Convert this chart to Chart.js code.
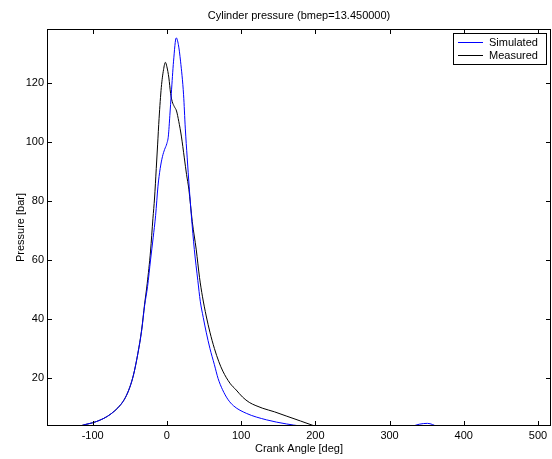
<!DOCTYPE html>
<html>
<head>
<meta charset="utf-8">
<script src="https://cdn.jsdelivr.net/npm/chart.js@4.4.1/dist/chart.umd.min.js"></script>
<style>
  html, body { margin: 0; padding: 0; background: #fff; }
  #wrap { width: 552px; height: 459px; }
</style>
</head>
<body>
<div id="wrap"><canvas id="pressureChart" width="552" height="459"></canvas></div>
<script>
// Simulated (blue)
const simAngle = [-160, -140, -120, -110, -100, -90, -80, -70, -62, -56, -50, -45, -39, -34, -30, -26, -22, -18.5, -15.2, -12, -9, -6, -3, 0, 2, 4, 6, 9, 12.6, 15.5, 18.4, 22.5, 24.8, 27.4, 30, 33, 37, 41.7, 45, 49, 53, 58, 64, 69, 75, 82, 90, 107, 134, 161, 180, 200, 250, 300, 330, 340, 351, 358, 365, 400, 450, 500, 520];
const simPressure = [2.2, 2.8, 3.5, 4.2, 4.8, 5.7, 7.0, 8.9, 11.0, 13.3, 16.8, 21, 28.4, 36, 44.5, 51, 60, 67.5, 75, 85, 91, 95, 97.5, 99.5, 102, 109, 116.5, 127.4, 135.3, 133, 127.4, 116, 104.7, 94.6, 85, 75, 63.5, 53, 46, 40.5, 35.5, 30, 24.5, 19.8, 16, 12.8, 10.5, 8, 5.8, 4.4, 3.7, 3.2, 2.5, 2.6, 3.6, 4.3, 4.6, 4.2, 3.4, 2.3, 2.0, 2.0, 2.0];

// Measured (black)
const measAngle = [-160, -140, -120, -110, -100, -90, -80, -70, -62, -56, -50, -45, -39, -34, -30, -26.5, -22, -18.8, -16.6, -14.3, -12.5, -10.5, -7.5, -4.5, -2, 0, 2.7, 5, 7.2, 10, 13, 16, 19.5, 23.5, 26.5, 29.6, 34.2, 39.6, 44, 48, 53, 58, 64, 70, 75.4, 85, 93.4, 102, 111, 120, 129.2, 145, 160.7, 180, 199];
const measPressure = [2.2, 2.8, 3.5, 4.2, 4.8, 5.7, 7.0, 8.9, 11.0, 13.3, 16.8, 21, 28.4, 36.3, 45, 52, 63, 74, 81, 91, 99, 108, 118.5, 124.5, 127, 125.5, 121.7, 116.5, 113.7, 112, 110.5, 107, 102, 94.6, 89, 84, 73, 63.4, 54, 47.5, 41, 35.5, 30, 25.5, 22.3, 18.2, 15.9, 13.5, 11.7, 10.6, 9.7, 8.5, 7.1, 5.4, 3.7];

const xTicks = [-100, 0, 100, 200, 300, 400, 500];
const yTicks = [20, 40, 60, 80, 100, 120];

const titleText = 'Cylinder pressure (bmep=13.450000)';
const fontFamily = '"Liberation Sans", Arial, Helvetica, sans-serif';

function toPoints(xs, ys) {
    return xs.map((x, i) => ({ x: x, y: ys[i] }));
}

// frame, inward ticks, title and legend box like the original plot
const matlabFrame = {
    id: 'matlabFrame',
    afterDraw(chart) {
        const { ctx, chartArea: a, scales } = chart;
        const t = 5;
        ctx.save();
        ctx.strokeStyle = '#000';
        ctx.lineWidth = 1;
        ctx.beginPath();
        xTicks.forEach(v => {
            const px = Math.round(scales.x.getPixelForValue(v)) + 0.5;
            ctx.moveTo(px, a.bottom); ctx.lineTo(px, a.bottom - t);
            ctx.moveTo(px, a.top); ctx.lineTo(px, a.top + t);
        });
        yTicks.forEach(v => {
            const py = Math.round(scales.y.getPixelForValue(v)) + 0.5;
            ctx.moveTo(a.left, py); ctx.lineTo(a.left + t, py);
            ctx.moveTo(a.right, py); ctx.lineTo(a.right - t, py);
        });
        ctx.stroke();
        ctx.strokeRect(Math.round(a.left) + 0.5, Math.round(a.top) + 0.5,
            Math.round(a.right - a.left) - 1, Math.round(a.bottom - a.top) - 1);

        // title
        ctx.fillStyle = '#000';
        ctx.font = '11px ' + fontFamily;
        ctx.textAlign = 'center';
        ctx.textBaseline = 'middle';
        ctx.fillText(titleText, (a.left + a.right) / 2, 16);

        // legend
        const lx = 453, ly = 33, lw = 93, lh = 31;
        ctx.fillStyle = '#fff';
        ctx.fillRect(lx, ly, lw, lh);
        ctx.strokeStyle = '#000';
        ctx.strokeRect(lx + 0.5, ly + 0.5, lw, lh);
        ctx.textAlign = 'left';
        chart.data.datasets.forEach((ds, i) => {
            const yy = ly + 9 + i * 13 + 0.5;
            ctx.beginPath();
            ctx.strokeStyle = ds.borderColor;
            ctx.moveTo(lx + 5, yy);
            ctx.lineTo(lx + 30, yy);
            ctx.stroke();
            ctx.fillStyle = '#000';
            ctx.fillText(ds.label, lx + 36, yy);
        });
        ctx.restore();
    }
};

new Chart(document.getElementById('pressureChart'), {
    type: 'scatter',
    data: {
        datasets: [{
            label: 'Simulated',
            data: toPoints(simAngle, simPressure),
            borderColor: '#0000ff',
            borderWidth: 1,
            showLine: true,
            pointRadius: 0,
            cubicInterpolationMode: 'monotone'
        }, {
            label: 'Measured',
            data: toPoints(measAngle, measPressure),
            borderColor: '#000000',
            borderWidth: 1,
            showLine: true,
            pointRadius: 0,
            cubicInterpolationMode: 'monotone'
        }]
    },
    options: {
        responsive: false,
        animation: false,
        layout: { padding: { top: 29, right: 1, left: 0, bottom: 0 } },
        plugins: {
            legend: { display: false },
            title: { display: false },
            tooltip: { enabled: false }
        },
        scales: {
            x: {
                type: 'linear',
                min: -161.5,
                max: 517.5,
                afterBuildTicks: s => { s.ticks = xTicks.map(v => ({ value: v })); },
                afterFit: s => { s.height = 33; },
                grid: { display: false, drawTicks: false },
                border: { display: false },
                ticks: {
                    padding: 3,
                    color: '#000',
                    font: { family: fontFamily, size: 11 },
                    maxRotation: 0
                },
                title: {
                    display: true,
                    text: 'Crank Angle [deg]',
                    color: '#000',
                    font: { family: fontFamily, size: 11 },
                    padding: { top: 0, bottom: 3 }
                }
            },
            y: {
                min: 3.7,
                max: 138.3,
                afterBuildTicks: s => { s.ticks = yTicks.map(v => ({ value: v })); },
                afterFit: s => { s.width = 47; },
                grid: { display: false, drawTicks: false },
                border: { display: false },
                ticks: {
                    padding: 3,
                    color: '#000',
                    font: { family: fontFamily, size: 11 }
                },
                title: {
                    display: true,
                    text: 'Pressure [bar]',
                    color: '#000',
                    font: { family: fontFamily, size: 11 },
                    padding: { top: 14, bottom: 0 }
                }
            }
        }
    },
    plugins: [matlabFrame]
});
</script>
</body>
</html>
